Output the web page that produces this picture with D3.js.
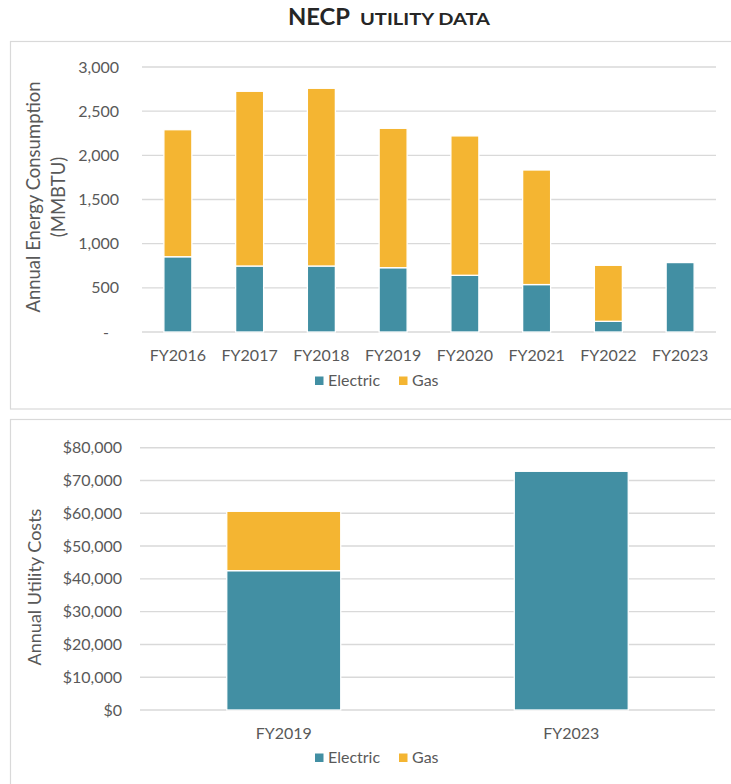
<!DOCTYPE html>
<html>
<head>
<meta charset="utf-8">
<script src="https://cdn.jsdelivr.net/npm/d3@7"></script>
<style>
  html, body { margin: 0; padding: 0; background: #fff; }
  svg { display: block; font-family: Lato, "Open Sans", sans-serif; }
</style>
</head>
<body>
<svg id="chart" width="731" height="784"></svg>
<script>
// Energy consumption (MMBTU) by fiscal year
const energyYears = ["FY2016", "FY2017", "FY2018", "FY2019", "FY2020", "FY2021", "FY2022", "FY2023"];
const energyElectric = [852, 747, 747, 728, 642, 537, 121, 786];
const energyGas = [1438, 1978, 2012, 1578, 1578, 1297, 634, 0];
const energyTicks = [0, 500, 1000, 1500, 2000, 2500, 3000];

// Utility costs ($) by fiscal year
const costYears = ["FY2019", "FY2023"];
const costElectric = [42500, 72800];
const costGas = [18100, 0];
const costTicks = [0, 10000, 20000, 30000, 40000, 50000, 60000, 70000, 80000];

const seriesNames = ["Electric", "Gas"];
const seriesColors = ["#428fa3", "#f4b532"];

const TEXT = "#595959";
const GRID = "#d9d9d9";

const svg = d3.select("#chart");

// Page title: "NECP" followed by small-caps "UTILITY DATA"
const title = svg.append("text")
  .attr("x", 288).attr("y", 24.5)
  .attr("text-anchor", "start")
  .attr("fill", "#262626")
  .attr("font-weight", 700);
title.append("tspan").attr("font-size", 22.5).attr("textLength", 62)
  .attr("lengthAdjust", "spacingAndGlyphs").text("NECP");
title.append("tspan").attr("x", 360).attr("font-size", 17.5).attr("textLength", 130)
  .attr("lengthAdjust", "spacingAndGlyphs").text("UTILITY DATA");

// Panel frames
svg.append("rect").attr("x", 10.5).attr("y", 41.5).attr("width", 740).attr("height", 367.5)
  .attr("fill", "none").attr("stroke", GRID).attr("stroke-width", 1.2);
svg.append("rect").attr("x", 10.5).attr("y", 419.5).attr("width", 740).attr("height", 400)
  .attr("fill", "none").attr("stroke", GRID).attr("stroke-width", 1.2);

function stackedPanel(opts) {
  const g = svg.append("g");
  const x = d3.scaleBand().domain(opts.categories)
    .range(opts.xRange).paddingInner(opts.pad).paddingOuter(opts.pad / 2);
  const y = d3.scaleLinear().domain(opts.domain).range(opts.yRange);

  // gridlines
  g.append("g").selectAll("line").data(opts.ticks).join("line")
    .attr("x1", opts.xRange[0]).attr("x2", opts.xRange[1])
    .attr("y1", d => y(d)).attr("y2", d => y(d))
    .attr("stroke", GRID).attr("stroke-width", 1.4);

  // y axis labels
  const yAxis = d3.axisLeft(y).tickValues(opts.ticks).tickSize(0).tickPadding(0)
    .tickFormat(opts.format);
  const ya = g.append("g").attr("transform", `translate(${opts.labelX},0)`).call(yAxis);
  ya.select(".domain").remove();
  ya.selectAll("text").attr("fill", TEXT).attr("font-size", 16)
    .attr("font-family", "Lato, sans-serif")
    .attr("dx", d => (opts.zeroDash && d === 0) ? -10 : 0);

  // stacked bars
  const rows = opts.categories.map((c, i) => ({ cat: c, Electric: opts.electric[i], Gas: opts.gas[i] }));
  const stack = d3.stack().keys(seriesNames)(rows);
  g.append("g").selectAll("g").data(stack).join("g")
    .attr("fill", (d, i) => seriesColors[i])
    .selectAll("rect").data(d => d.filter(p => p[1] > p[0])).join("rect")
    .attr("x", d => x(d.data.cat))
    .attr("width", x.bandwidth())
    .attr("y", d => y(d[1]))
    .attr("height", d => y(d[0]) - y(d[1]))
    .attr("stroke", "#fff").attr("stroke-width", 1.3);

  // x axis labels
  const xAxis = d3.axisBottom(x).tickSize(0).tickPadding(0);
  const xa = g.append("g").attr("transform", `translate(0,${opts.xLabelY})`).call(xAxis);
  xa.select(".domain").remove();
  xa.selectAll("text").attr("fill", TEXT).attr("font-size", 16)
    .attr("font-family", "Lato, sans-serif").attr("dy", 0);

  // y axis title
  const t = g.append("text")
    .attr("transform", `translate(${opts.titleX},${opts.titleY}) rotate(-90)`)
    .attr("text-anchor", "middle").attr("fill", TEXT).attr("font-size", opts.titleSize);
  opts.titleLines.forEach((line, i) => {
    t.append("tspan").attr("x", 0).attr("dy", i === 0 ? 0 : opts.titleLineGap).text(line);
  });

  // legend
  const lg = g.append("g").attr("transform", `translate(${opts.legendX},${opts.legendY})`);
  const offsets = [0, 84];
  seriesNames.forEach((name, i) => {
    lg.append("rect").attr("x", offsets[i]).attr("y", -9.5).attr("width", 8.5).attr("height", 8.5)
      .attr("fill", seriesColors[i]);
    lg.append("text").attr("x", offsets[i] + 13).attr("y", 0)
      .attr("fill", TEXT).attr("font-size", 16).text(name);
  });
}

stackedPanel({
  categories: energyYears, electric: energyElectric, gas: energyGas,
  domain: [0, 3000], ticks: energyTicks,
  xRange: [142, 716], yRange: [332, 67], pad: 0.61,
  format: d => d === 0 ? "-" : d3.format(",")(d),
  zeroDash: true,
  labelX: 119, xLabelY: 361,
  titleLines: ["Annual Energy Consumption", "(MMBTU)"],
  titleX: 40, titleY: 197, titleSize: 18.5, titleLineGap: 25,
  legendX: 315, legendY: 386
});

stackedPanel({
  categories: costYears, electric: costElectric, gas: costGas,
  domain: [0, 80000], ticks: costTicks,
  xRange: [140, 715], yRange: [710, 447.7], pad: 0.6035,
  format: d => "$" + d3.format(",")(d),
  zeroDash: false,
  labelX: 122, xLabelY: 739,
  titleLines: ["Annual Utility Costs"],
  titleX: 41, titleY: 587, titleSize: 18, titleLineGap: 0,
  legendX: 315, legendY: 763
});
</script>
</body>
</html>
